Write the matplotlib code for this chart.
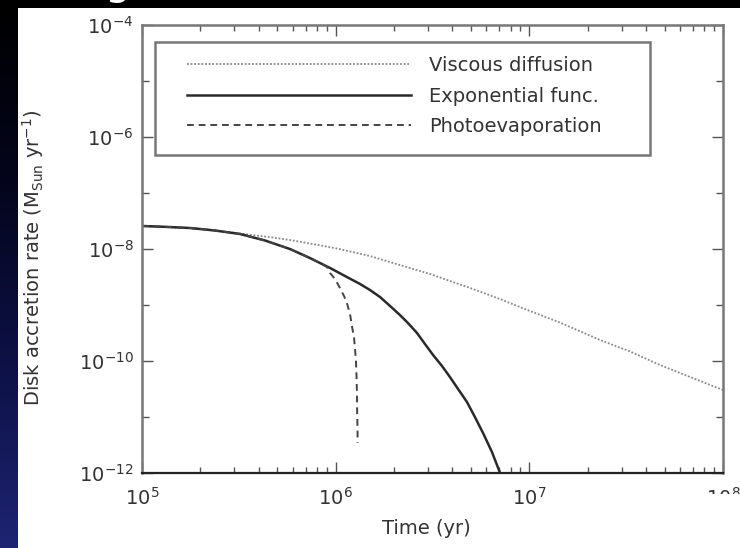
import numpy as np
import matplotlib.pyplot as plt
from matplotlib.colors import LinearSegmentedColormap
from matplotlib.patches import Rectangle
from matplotlib.ticker import NullFormatter
from matplotlib.transforms import Bbox

# Valores, em log10 (tempo em anos, taxa em M_sun/yr)
logt_visc = [5.000, 5.145, 5.299, 5.506, 5.676, 5.764, 5.867, 6.007, 6.177,
             6.332, 6.487, 6.590, 6.694, 6.848, 7.003, 7.158, 7.365, 7.520,
             7.674, 7.830, 8.000]
logm_visc = [-7.589, -7.613, -7.638, -7.723, -7.795, -7.839, -7.902, -7.991,
             -8.125, -8.286, -8.446, -8.571, -8.696, -8.893, -9.107, -9.313,
             -9.625, -9.830, -10.071, -10.286, -10.518]

logt_exp = [5.000, 5.119, 5.248, 5.377, 5.506, 5.635, 5.764, 5.867, 5.971,
            6.048, 6.126, 6.177, 6.229, 6.281, 6.332, 6.373, 6.420, 6.461,
            6.503, 6.549, 6.590, 6.632, 6.678, 6.719, 6.761, 6.807, 6.849,
            6.900]
logm_exp = [-7.589, -7.604, -7.625, -7.670, -7.732, -7.848, -8.000, -8.161,
            -8.339, -8.482, -8.625, -8.732, -8.857, -9.018, -9.179, -9.321,
            -9.500, -9.696, -9.893, -10.089, -10.286, -10.500, -10.732,
            -11.000, -11.286, -11.625, -12.000, -12.400]

logt_pe = [5.000, 5.119, 5.248, 5.377, 5.506, 5.635, 5.764, 5.867, 5.919,
           5.955, 5.971, 5.997, 6.022, 6.043, 6.058, 6.074, 6.084, 6.095,
           6.100, 6.105, 6.108, 6.110, 6.111, 6.113, 6.113]
logm_pe = [-7.589, -7.604, -7.625, -7.670, -7.732, -7.848, -8.000, -8.161,
           -8.250, -8.321, -8.429, -8.536, -8.696, -8.839, -8.964, -9.161,
           -9.375, -9.589, -9.786, -10.018, -10.304, -10.607, -10.929,
           -11.232, -11.464]

x_ticks = [1e5, 1e6, 1e7, 1e8]
y_ticks = [1e-12, 1e-10, 1e-8, 1e-6, 1e-4]
y_minor = [1e-11, 1e-9, 1e-7, 1e-5]

W, H = 740, 548
fig = plt.figure(figsize=(W / 100, H / 100), dpi=100, facecolor='black')

# faixa lateral com gradiente (fundo do slide)
strip = fig.add_axes([0, 0, 18 / W, 1])
grad = np.linspace(0, 1, 256).reshape(-1, 1)
cmap = LinearSegmentedColormap.from_list(
    'slide', ['#1e2472', '#0d1146', '#04051c', '#000000'])
strip.imshow(grad, aspect='auto', cmap=cmap, origin='lower', extent=[0, 1, 0, 1])
strip.axis('off')

# painel branco
fig.add_artist(Rectangle((18 / W, 0), 1 - 18 / W, (H - 8) / H,
                         transform=fig.transFigure, facecolor='white',
                         edgecolor='none', zorder=-1))
# pedaço do título cortado no topo
fig.text(118 / W, (H + 6) / H, 'g', color='white', fontsize=30,
         ha='center', va='baseline')

ax = fig.add_axes([142 / W, 1 - 473 / H, 581 / W, 448 / H])
ax.set_facecolor('none')

ax.loglog(10 ** np.array(logt_visc), 10 ** np.array(logm_visc),
          ls=(0, (1, 1)), color='#888888', lw=1.3, label='Viscous diffusion')
ax.loglog(10 ** np.array(logt_exp), 10 ** np.array(logm_exp),
          color='#2a2a2a', lw=1.8, label='Exponential func.')
ax.loglog(10 ** np.array(logt_pe), 10 ** np.array(logm_pe),
          ls=(0, (3.5, 2.5)), color='#444444', lw=1.4, label='Photoevaporation')

ax.set_xlim(1e5, 1e8)
ax.set_ylim(1e-12, 1e-4)
ax.set_xticks(x_ticks)
ax.set_yticks(y_ticks)
ax.set_yticks(y_minor, minor=True)
ax.xaxis.set_minor_formatter(NullFormatter())
ax.yaxis.set_minor_formatter(NullFormatter())

ax.tick_params(which='both', direction='in', top=True, right=True,
               color='#555555', labelcolor='#333333', labelsize=14)
ax.tick_params(which='major', length=8, width=1)
ax.tick_params(which='minor', length=4, width=1)
ax.tick_params(axis='y', which='minor', length=5)
ax.tick_params(axis='x', pad=10)
ax.tick_params(axis='y', pad=6)

for s in ['left', 'top', 'right']:
    ax.spines[s].set_color('#777777')
    ax.spines[s].set_linewidth(1.8)
ax.spines['bottom'].set_color('#222222')
ax.spines['bottom'].set_linewidth(1.6)

ax.set_xlabel('Time (yr)', fontsize=14, color='#333333')
ax.xaxis.set_label_coords(0.49, (473 - 519) / 448)
ax.set_ylabel('Disk accretion rate (M$_{\\rm Sun}$ yr$^{-1}$)', fontsize=14,
              color='#333333')
ax.yaxis.set_label_coords((46 - 142) / 581, 0.48)

# legenda sem moldura + retângulo
leg = ax.legend(loc='upper left', bbox_to_anchor=((187 - 142) / 581, 0.931),
                borderaxespad=0, borderpad=0, fontsize=14, handlelength=11.5,
                handletextpad=0.93, labelspacing=0.6, frameon=False)
for t in leg.get_texts():
    t.set_color('#333333')
ax.add_patch(Rectangle((0.0224, 0.710), 0.852, 0.252, transform=ax.transAxes,
                       fill=False, edgecolor='#777777', lw=1.8, clip_on=False))

# o rótulo 10^8 aparece cortado no original
lab = ax.get_xticklabels()[-1]
lab.set_clip_on(True)
lab.set_clip_box(Bbox.from_extents(0, H - 494, W, H))

fig.savefig('out.png', dpi=100, facecolor='black')
